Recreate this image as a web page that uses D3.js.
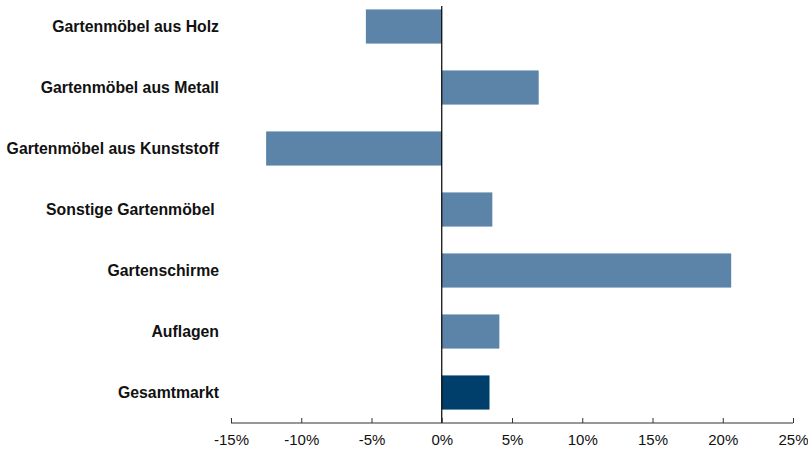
<!DOCTYPE html>
<html><head><meta charset="utf-8">
<script src="https://cdn.jsdelivr.net/npm/d3@7"></script>
<style>body{margin:0;background:#fff}svg{display:block}text.cat{white-space:pre}</style>
</head><body>
<svg id="c" width="808" height="450"></svg>
<script>
const categories = ["Gartenmöbel aus Holz","Gartenmöbel aus Metall","Gartenmöbel aus Kunststoff","Sonstige Gartenmöbel ","Gartenschirme","Auflagen","Gesamtmarkt"];
const values = [-5.4, 6.9, -12.5, 3.6, 20.6, 4.1, 3.4];
const tickValues = [-15,-10,-5,0,5,10,15,20,25];
const colors = ["#5b84a8","#5b84a8","#5b84a8","#5b84a8","#5b84a8","#5b84a8","#003f6b"];

const svg = d3.select("#c");
const x = d3.scaleLinear().domain([-15,25]).range([231,793]);
const y = d3.scaleBand().domain(categories).range([-4,423]).paddingInner(0.44).paddingOuter(0.22);

svg.selectAll("rect.bar").data(values).join("rect")
  .attr("class","bar")
  .attr("x",(d)=>x(Math.min(0,d)))
  .attr("width",(d)=>Math.abs(x(d)-x(0)))
  .attr("y",(d,i)=>y(categories[i]))
  .attr("height",y.bandwidth())
  .attr("fill",(d,i)=>colors[i]);

// zero line
svg.append("line").attr("x1",x(0)).attr("x2",x(0)).attr("y1",6).attr("y2",423)
  .attr("stroke","#000").attr("stroke-width",1.2);

// category labels
svg.selectAll("text.cat").data(categories).join("text")
  .attr("class","cat")
  .attr("xml:space","preserve")
  .attr("x",219).attr("y",d=>y(d)+y.bandwidth()/2)
  .attr("dy","0.35em").attr("text-anchor","end")
  .attr("font-family","Liberation Sans, Arial, sans-serif")
  .attr("font-weight","bold").attr("font-size",15.8).attr("fill","#111")
  .text(d=>d);

// x axis
const ax = svg.append("g").attr("transform","translate(0,423)")
  .call(d3.axisTop(x).tickValues(tickValues).tickSize(5).tickFormat(d=>d+"%"));
ax.select(".domain").attr("stroke","#333").attr("d",`M${x(-15)},0H${x(25)}`);
ax.selectAll(".tick line").attr("stroke","#333");
ax.selectAll(".tick text").attr("y",22).attr("dy","0").attr("font-size",15)
  .attr("font-family","Liberation Sans, Arial, sans-serif").attr("fill","#111");
</script>
</body></html>
